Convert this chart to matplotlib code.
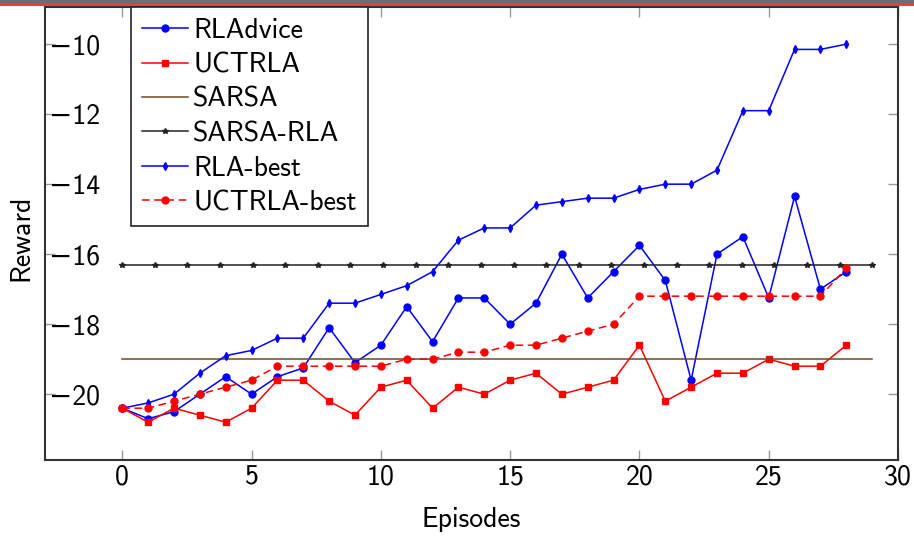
import numpy as np
import matplotlib
matplotlib.use('Agg')
import matplotlib.pyplot as plt
from matplotlib.patches import Rectangle
from matplotlib.lines import Line2D

plt.rcParams['font.family'] = ['cmss10', 'DejaVu Sans']
plt.rcParams['axes.unicode_minus'] = True

# Episode indices and rewards per method
episodes = list(range(29))

rla_advice = [-20.4, -20.7, -20.5, -20.0, -19.5, -20.0, -19.5, -19.25, -18.1, -19.1,
              -18.6, -17.5, -18.5, -17.25, -17.25, -18.0, -17.4, -16.0, -17.25, -16.5,
              -15.75, -16.75, -19.6, -16.0, -15.5, -17.25, -14.35, -17.0, -16.5]

uctrla = [-20.4, -20.8, -20.4, -20.6, -20.8, -20.4, -19.6, -19.6, -20.2, -20.6,
          -19.8, -19.6, -20.4, -19.8, -20.0, -19.6, -19.4, -20.0, -19.8, -19.6,
          -18.6, -20.2, -19.8, -19.4, -19.4, -19.0, -19.2, -19.2, -18.6]

rla_best = [-20.4, -20.25, -20.0, -19.4, -18.9, -18.75, -18.4, -18.4, -17.4, -17.4,
            -17.15, -16.9, -16.5, -15.6, -15.25, -15.25, -14.6, -14.5, -14.4, -14.4,
            -14.15, -14.0, -14.0, -13.6, -11.9, -11.9, -10.15, -10.15, -10.0]

uctrla_best = [-20.4, -20.4, -20.2, -20.0, -19.8, -19.6, -19.2, -19.2, -19.2, -19.2,
               -19.2, -19.0, -19.0, -18.8, -18.8, -18.6, -18.6, -18.4, -18.2, -18.0,
               -17.2, -17.2, -17.2, -17.2, -17.2, -17.2, -17.2, -17.2, -16.4]

# baselines are constant
sarsa_x = [0, 29]
sarsa = [-19.0, -19.0]
sarsa_rla_x = np.linspace(0, 29, 24)
sarsa_rla = [-16.3] * 24

fig = plt.figure(figsize=(9.14, 5.36), dpi=100)
ax = fig.add_axes([0.0489, 0.1418, 0.9336, 0.8457])

ax.plot(episodes, rla_advice, color='blue', lw=1.1, marker='o', ms=5, label='RLAdvice')
ax.plot(episodes, uctrla, color='red', lw=1.1, marker='s', ms=5, label='UCTRLA')
ax.plot(sarsa_x, sarsa, color='#6f4820', lw=1.1, label='SARSA')
ax.plot(sarsa_rla_x, sarsa_rla, color='#222222', lw=1.1, marker='*', ms=4, label='SARSA-RLA')
ax.plot(episodes, rla_best, color='blue', lw=1.1, marker='d', ms=4, label='RLA-best')
ax.plot(episodes, uctrla_best, color='red', lw=1.1, ls=(0, (5, 3)), marker='o', ms=5,
        label='UCTRLA-best')

ax.set_xlim(-3, 30)
ax.set_ylim(-21.88, -8.93)
ax.set_xticks([0, 5, 10, 15, 20, 25, 30])
ax.set_yticks([-20, -18, -16, -14, -12, -10])
ax.tick_params(direction='in', length=7, width=1, color='#999999',
               top=True, right=True, labelsize=20)
ax.tick_params(axis='x', pad=3)
# y labels sit inside the frame, just right of the left spine
ax.tick_params(axis='y', pad=-40)
for s in ax.spines.values():
    s.set_linewidth(1.5)
    s.set_color('#333333')

ax.set_xlabel('Episodes', fontsize=20)
ax.set_ylabel('Reward', fontsize=20)
ax.yaxis.set_label_coords(-0.013, 0.49)
ax.xaxis.set_label_coords(0.5, -0.103)

leg = ax.legend(loc='upper left', bbox_to_anchor=(0.1008, 1.0), borderaxespad=0,
                fontsize=20, fancybox=False, edgecolor='#222222', framealpha=1,
                handlelength=1.65, handletextpad=0.2, labelspacing=0.34,
                borderpad=0.4)
leg.get_frame().set_linewidth(1.2)

# slide header strip along the top edge
fig.add_artist(Rectangle((0, 1 - 4 / 536), 1, 4 / 536, transform=fig.transFigure,
                         color='#6e6e6e', zorder=10))
fig.add_artist(Line2D([0, 1], [1 - 5 / 536, 1 - 5 / 536], transform=fig.transFigure,
                      color='#e84040', lw=1.5, zorder=10))

fig.savefig('out.png', dpi=100)
